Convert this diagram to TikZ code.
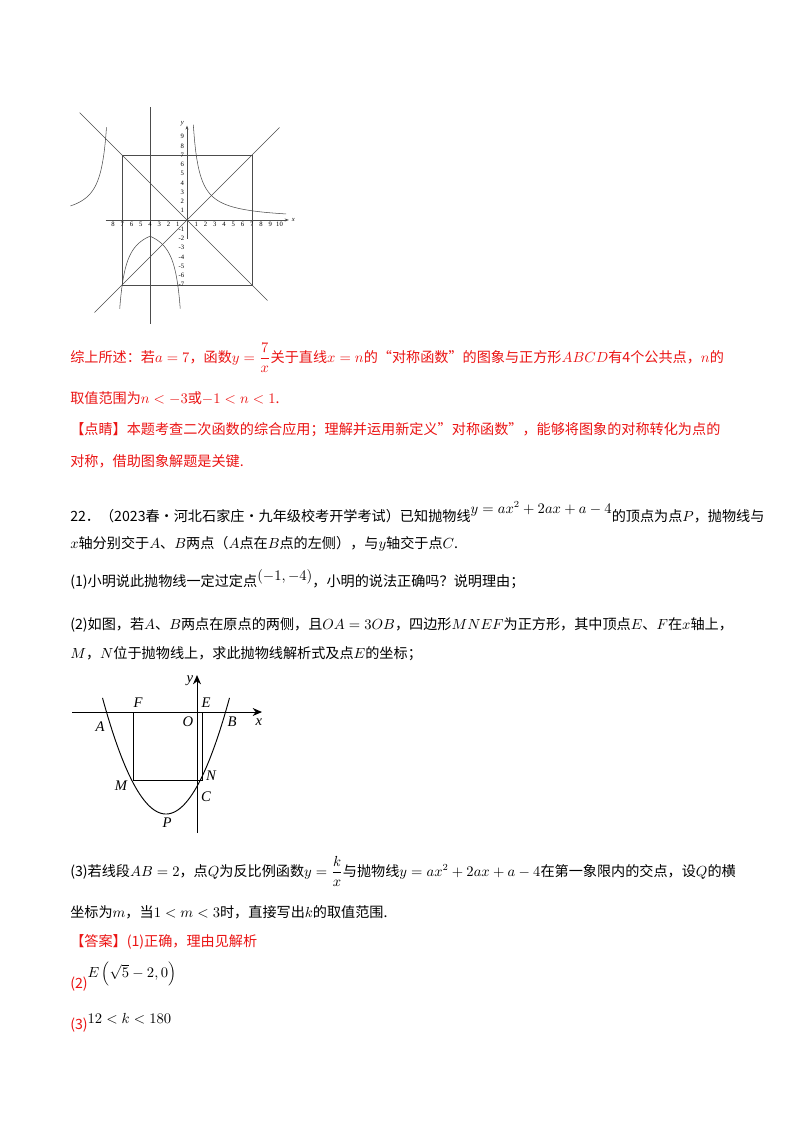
\documentclass[tikz,border=0pt]{standalone}
\usepackage{fontspec}
\setmainfont{Liberation Serif}
\newfontfamily\cjk{Noto Sans CJK SC}
\usetikzlibrary{arrows.meta}
\definecolor{redt}{RGB}{235,20,20}
\tikzset{
  txt/.style={anchor=base west,inner sep=0pt,font=\fontsize{10.6}{12}\selectfont\cjk},
  rtxt/.style={txt,text=redt},
  gline/.style={draw=black!70,line width=0.4pt},
  tick/.style={inner sep=0pt,font=\fontsize{5}{5}\selectfont},
  lab/.style={inner sep=0pt,font=\fontsize{11}{12}\selectfont\itshape},
}
\begin{document}
\begin{tikzpicture}[x=0.75pt,y=-0.75pt]
\useasboundingbox (0,0) rectangle (800,1132);
\fill[white] (0,0) rectangle (800,1132);
% ---- top graph ----
\begin{scope}[shift={(187,220)},x=6.94pt,y=6.94pt]
 \coordinate (o) at (0,0);
 \draw[gline] (-7,-7) rectangle (7,7);
 \draw[gline] (-10,-10) -- (10,10);
 \draw[gline] (-11.6,11.6) -- (8.7,-8.7);
 \draw[gline] (-4,12.2) -- (-4,-11.2);
 \draw[gline,-{Stealth[length=3pt]}] (-8.8,0) -- (11,0);
 \draw[gline,-{Stealth[length=3pt]}] (0,-2) -- (0,10.2);
 \draw[gline] plot[domain=0.68:10.7,samples=80] (\x,{7/\x});
 \draw[gline] plot[domain=-4:-0.73,samples=60] (\x,{7/\x});
 \draw[gline] plot[domain=-12.6:-8.7,samples=60] (\x,{7/(-8-\x)});
 \draw[gline] plot[domain=-7.27:-4,samples=60] (\x,{-7/(\x+8)});
 \foreach \i in {1,...,10} \node[tick] at (\i,-0.5) {\i};
 \foreach \i in {1,...,8} \node[tick] at (-\i,-0.5) {\i};
 \foreach \i in {1,...,9} \node[tick] at (-0.5,\i) {\i};
 \foreach \i in {1,...,7} \node[tick] at (-0.6,-\i) {-\i};
 \node[tick,font=\fontsize{5}{5}\selectfont\itshape] at (11.5,0) {x};
 \node[tick,font=\fontsize{5}{5}\selectfont\itshape] at (-0.5,10.4) {y};
\end{scope}
% ---- text block 1 ----
\node[rtxt] (t1) at (70,362) {综上所述：若$a=7$，函数$y=\displaystyle\frac{7}{x}$关于直线$x=n$的“对称函数”的图象与正方形$ABCD$有4个公共点，$n$的};
\node[rtxt] (t2) at (70,403) {取值范围为$n<-3$或$-1<n<1$.};
\node[rtxt] (t3) at (70,434) {【点睛】本题考查二次函数的综合应用；理解并运用新定义”对称函数”，能够将图象的对称转化为点的};
\node[rtxt] (t4) at (70,466) {对称，借助图象解题是关键.};
% ---- problem 22 ----
\node[txt] (p1) at (70,521) {22．（2023春·河北石家庄·九年级校考开学考试）已知抛物线\raisebox{6pt}{$y=ax^2+2ax+a-4$}的顶点为点$P$，抛物线与};
\node[txt] (p2) at (70,548) {$x$轴分别交于$A$、$B$两点（$A$点在$B$点的左侧），与$y$轴交于点$C$.};
\node[txt] (p3) at (70,586) {(1)小明说此抛物线一定过定点\raisebox{4pt}{$(-1,-4)$}，小明的说法正确吗？说明理由；};
\node[txt] (p4) at (70,629) {(2)如图，若$A$、$B$两点在原点的两侧，且$OA=3OB$，四边形$MNEF$为正方形，其中顶点$E$、$F$在$x$轴上，};
\node[txt] (p5) at (70,658) {$M$，$N$位于抛物线上，求此抛物线解析式及点$E$的坐标；};
% ---- parabola figure ----
\coordinate (xl) at (72,712); \coordinate (xr) at (262,712);
\coordinate (yb) at (197,833); \coordinate (yt) at (197,675);
\draw[-{Stealth[length=7pt,width=6pt]},line width=0.7pt] (xl) -- (xr);
\draw[-{Stealth[length=7pt,width=6pt]},line width=0.7pt] (yb) -- (yt);
\draw[line width=0.7pt] plot[domain=102.5:229.5,samples=80] (\x,{814-0.0288*(\x-166)^2});
\coordinate (F) at (133,712); \coordinate (E) at (202,712);
\coordinate (M) at (133,780); \coordinate (N) at (202,780);
\draw[line width=0.7pt] (F) -- (M) -- (N) -- (E);
\node[lab] at (190,681) {y};
\node[lab] at (138,703) {F};
\node[lab] at (206,703) {E};
\node[lab] at (188,722) {O};
\node[lab] at (232,722) {B};
\node[lab] at (259,722) {x};
\node[lab] at (100,727) {A};
\node[lab] at (121,786) {M};
\node[lab] at (211,776) {N};
\node[lab] at (206,797) {C};
\node[lab] at (167,823) {P};
% ---- part 3 ----
\node[txt] (q1) at (70,876) {(3)若线段$AB=2$，点$Q$为反比例函数$y=\displaystyle\frac{k}{x}$与抛物线$y=ax^2+2ax+a-4$在第一象限内的交点，设$Q$的横};
\node[txt] (q2) at (70,917) {坐标为$m$，当$1<m<3$时，直接写出$k$的取值范围.};
\node[rtxt] (a1) at (70,946) {【答案】(1)正确，理由见解析};
\node[rtxt] (a2) at (70,988) {(2)\raisebox{8pt}{\color{black}$E\left(\sqrt{5}-2,0\right)$}};
\node[rtxt] (a3) at (70,1029) {(3)\raisebox{4pt}{\color{black}$12<k<180$}};
\end{tikzpicture}
\end{document}
